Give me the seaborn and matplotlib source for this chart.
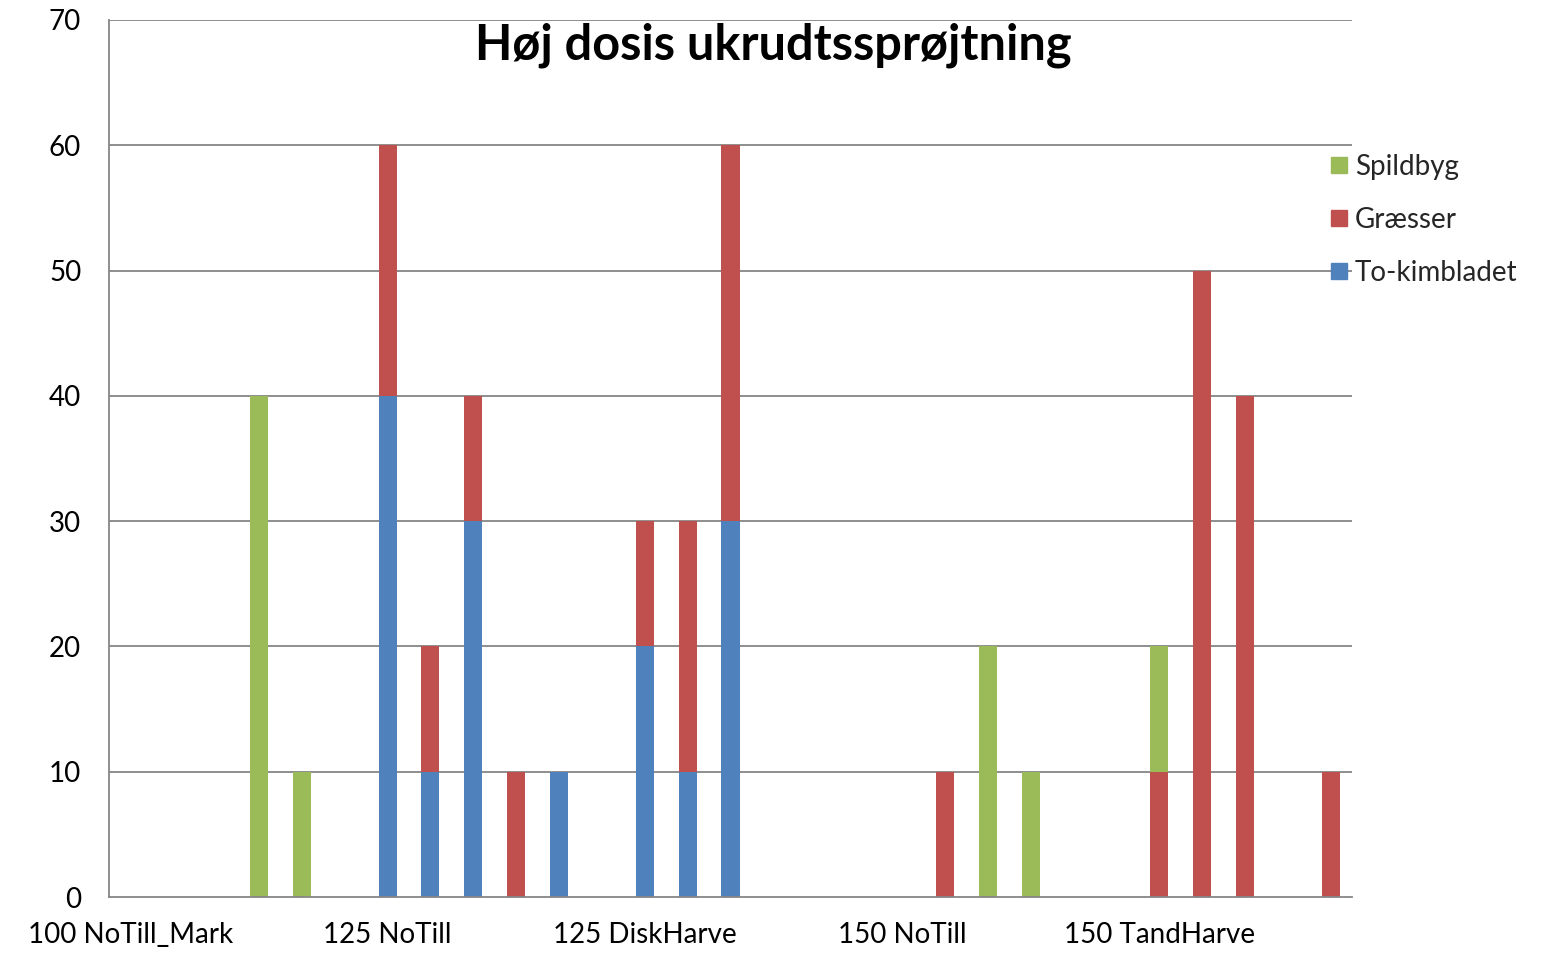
import matplotlib
matplotlib.use("Agg")
import matplotlib.pyplot as plt
from matplotlib.lines import Line2D
import seaborn as sns
import numpy as np
import pandas as pd

# ---- data ----
positions = list(range(29))
tick_positions = [0, 6, 12, 18, 24]
tick_labels = ["100 NoTill_Mark", "125 NoTill", "125 DiskHarve", "150 NoTill", "150 TandHarve"]
series_names = ["Spildbyg", "Græsser", "To-kimbladet"]

to_kimbladet = [0, 0, 0, 0, 0, 0, 40, 10, 30, 0, 10, 0, 20, 10, 30,
                0, 0, 0, 0, 0, 0, 0, 0, 0, 0, 0, 0, 0, 0]
graesser = [0, 0, 0, 0, 0, 0, 20, 10, 10, 10, 0, 0, 10, 20, 30,
            0, 0, 0, 0, 10, 0, 0, 0, 0, 10, 50, 40, 0, 10]
spildbyg = [0, 0, 0, 40, 10, 0, 0, 0, 0, 0, 0, 0, 0, 0, 0,
            0, 0, 0, 0, 0, 20, 10, 0, 0, 10, 0, 0, 0, 0]

colors = {"Spildbyg": "#9BBB59", "Græsser": "#C0504D", "To-kimbladet": "#4F81BD"}

df = pd.DataFrame({"pos": positions, "blue": to_kimbladet,
                   "red": graesser, "green": spildbyg})
df["top_red"] = df["blue"] + df["red"]
df["top_green"] = df["top_red"] + df["green"]

sns.set_style("white")
plt.rcParams["font.family"] = ["Lato", "DejaVu Sans"]

fig = plt.figure(figsize=(15.48, 9.56), dpi=100)
ax = fig.add_axes([109/1548, 1-897/956, (1352-109)/1548, (897-20)/956])

grid_c = "#868686"
for v in range(10, 71, 10):
    ax.axhline(v, color=grid_c, lw=1.3, zorder=0)

kw = dict(width=0.42, saturation=1, ax=ax, order=positions, zorder=2, linewidth=0)
sns.barplot(data=df, x="pos", y="top_green", color=colors["Spildbyg"], **kw)
sns.barplot(data=df, x="pos", y="top_red", color=colors["Græsser"], **kw)
sns.barplot(data=df, x="pos", y="blue", color=colors["To-kimbladet"], **kw)

ax.set_xlim(-0.5, 28.5)
ax.set_ylim(0, 70)
ax.set_yticks(range(0, 71, 10))
ax.set_xticks(tick_positions)
ax.set_xticklabels(tick_labels)
ax.set_xticks([i - 0.5 for i in range(30)], minor=True)
ax.set_xlabel("")
ax.set_ylabel("")

ax.tick_params(axis="x", which="major", length=0, pad=18, labelsize=20, labelcolor="#000000")
ax.tick_params(axis="x", which="minor", length=8, width=1.3, color=grid_c, direction="out")
ax.tick_params(axis="y", length=8, width=1.3, color=grid_c, pad=12, labelsize=20, labelcolor="#000000")

for s in ["top", "right"]:
    ax.spines[s].set_visible(False)
for s in ["left", "bottom"]:
    ax.spines[s].set_color(grid_c)
    ax.spines[s].set_linewidth(1.3)

fig.text(773/1548, 1-45/956, "Høj dosis ukrudtssprøjtning", ha="center", va="center",
         fontsize=35, fontweight="bold", color="#000000")

handles = [Line2D([], [], marker="s", linestyle="none", markersize=12,
                  markerfacecolor=colors[n], markeredgecolor=colors[n]) for n in series_names]
fig.legend(handles, series_names, loc="upper left", bbox_to_anchor=(1331/1548, 1-154/956),
           frameon=False, fontsize=20, handlelength=0.6, handletextpad=0.25,
           labelspacing=0.97, borderaxespad=0, borderpad=0)

fig.savefig("out.png", dpi=100, facecolor="white")
